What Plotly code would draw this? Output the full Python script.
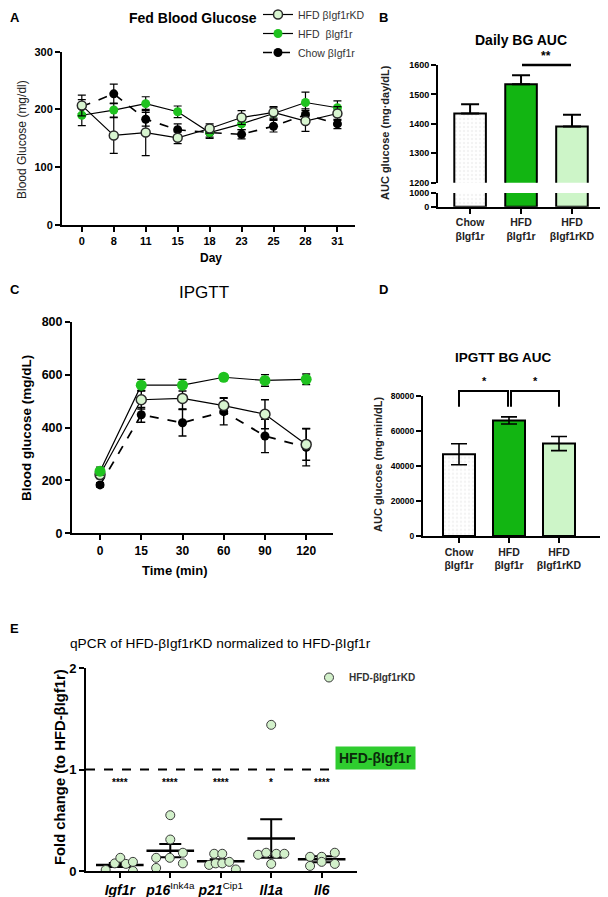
import plotly.graph_objects as go

W, H = 608, 897
OFF = 8  # page body margin of the html page

# ---------------- data ----------------
days = ["0", "8", "11", "15", "18", "23", "25", "28", "31"]
fed_kd = [207, 155, 160, 151, 167, 186, 195, 180, 193]
fed_kd_err = [18, 31, 40, 10, 8, 12, 10, 18, 12]
fed_hfd = [190, 199, 210, 196, 160, 175, 193, 212, 203]
fed_hfd_err = [18, 12, 12, 10, 10, 10, 10, 18, 12]
fed_chow = [205, 227, 183, 165, 160, 157, 171, 191, 175]
fed_chow_err = [12, 17, 12, 10, 8, 8, 10, 10, 8]

groups = ["Chow<br>βIgf1r", "HFD<br>βIgf1r", "HFD<br>βIgf1rKD"]
daily_auc = [1435, 1535, 1391]
daily_auc_err = [32, 30, 40]

times = ["0", "15", "30", "60", "90", "120"]
gtt_hfd = [235, 560, 560, 590, 578, 582]
gtt_hfd_err = [15, 22, 22, 10, 22, 20]
gtt_kd = [222, 505, 510, 483, 450, 336]
gtt_kd_err = [15, 35, 40, 30, 55, 60]
gtt_chow = [183, 448, 418, 460, 368, 325]
gtt_chow_err = [8, 28, 50, 50, 63, 70]

ipgtt_auc = [46600, 65900, 52700]
ipgtt_auc_err = [6000, 2000, 4000]

genes = ["<b><i>Igf1r</i></b>", "<b><i>p16</i></b><sup>Ink4a</sup>",
         "<b><i>p21</i></b><sup>Cip1</sup>", "<b><i>Il1a</i></b>", "<b><i>Il6</i></b>"]
pts_igf1r = [0.01, 0.075, 0.13, 0.07, 0.09, 0.0]
pts_p16 = [0.13, 0.03, 0.55, 0.31, 0.13, 0.18, 0.075]
pts_p21 = [0.06, 0.17, 0.17, 0.075, 0.075, 0.09, 0.015]
pts_il1a = [1.44, 0.16, 0.18, 0.17, 0.17, 0.07]
pts_il6 = [0.14, 0.05, 0.14, 0.18, 0.07, 0.09]
jit_igf1r = [-0.28, -0.1, 0.01, 0.12, 0.26, 0.26]
jit_p16 = [-0.28, -0.28, 0.0, 0.0, -0.01, 0.25, 0.25]
jit_p21 = [-0.23, -0.13, 0.03, -0.1, 0.03, 0.17, 0.3]
jit_il1a = [0.0, -0.26, -0.1, 0.1, 0.26, 0.0]
jit_il6 = [-0.23, -0.23, 0.0, 0.26, 0.26, 0.0]
gene_mean = [0.06, 0.2, 0.095, 0.32, 0.115]
gene_sem = [0.02, 0.065, 0.02, 0.19, 0.03]
gene_stars = ["****", "****", "****", "*", "****"]

# ---------------- style ----------------
FONT = "Arial, Liberation Sans, sans-serif"
GREEN = "#1fc21f"
BAR_GREEN = "#12b512"
LIGHT = "#d8f5d0"
ECOL = "#2b2b2b"

FW, FH = W - OFF, H - OFF


def fx(p):
    return (p - OFF) / FW


def fy(p):
    return 1 - (p - OFF) / FH


fig = go.Figure()

# ---------------- Panel A ----------------
specA = [
    ("Chow βIgf1r", fed_chow, fed_chow_err, dict(color="black", size=9), "dash", 3),
    ("HFD  βIgf1r", fed_hfd, fed_hfd_err, dict(color=GREEN, size=9), "solid", 2),
    ("HFD βIgf1rKD", fed_kd, fed_kd_err,
     dict(color=LIGHT, size=9, line=dict(color=ECOL, width=1.5)), "solid", 1),
]
for name, vals, errs, mk, dash, rank in specA:
    fig.add_trace(go.Scatter(
        x=days, y=vals, mode="lines+markers", name=name, legend="legend", legendrank=rank,
        line=dict(color="black", width=1.6 if dash == "dash" else 1.2, dash=dash),
        marker=mk,
        error_y=dict(type="data", array=errs, color="black", thickness=1.2, width=4),
        xaxis="x", yaxis="y"))

# ---------------- Panel B (broken axis) ----------------
bar_colors = ["#f3f3f3", BAR_GREEN, "#cdf5c8"]
pattern = dict(shape=[".", "", ""], fgcolor="#a0a0a0", size=4, solidity=0.3)
for yax, err in (("y2", dict(type="data", array=daily_auc_err, arrayminus=[0, 0, 0],
                               symmetric=False, color="black", thickness=2, width=9)),
                 ("y3", None)):
    fig.add_trace(go.Bar(
        x=groups, y=daily_auc, width=0.62, showlegend=False,
        marker=dict(color=bar_colors, line=dict(color="black", width=2), pattern=pattern),
        error_y=err, xaxis="x2", yaxis=yax))

# ---------------- Panel C ----------------
specC = [
    ("Chow", gtt_chow, gtt_chow_err, dict(color="black", size=9), "dash"),
    ("KD", gtt_kd, gtt_kd_err, dict(color=LIGHT, size=10, line=dict(color=ECOL, width=1.5)), "solid"),
    ("HFD", gtt_hfd, gtt_hfd_err, dict(color=GREEN, size=11), "solid"),
]
for name, vals, errs, mk, dash in specC:
    fig.add_trace(go.Scatter(
        x=times, y=vals, mode="lines+markers", showlegend=False,
        line=dict(color="black", width=1.8 if dash == "dash" else 1.2, dash=dash),
        marker=mk,
        error_y=dict(type="data", array=errs, color="black", thickness=1.4, width=4),
        xaxis="x4", yaxis="y4"))

# ---------------- Panel D ----------------
fig.add_trace(go.Bar(
    x=groups, y=ipgtt_auc, width=0.64, showlegend=False,
    marker=dict(color=bar_colors, line=dict(color="black", width=2), pattern=pattern),
    error_y=dict(type="data", array=ipgtt_auc_err, color="black", thickness=1.6, width=8),
    xaxis="x5", yaxis="y5"))

# ---------------- Panel E ----------------
all_pts = [pts_igf1r, pts_p16, pts_p21, pts_il1a, pts_il6]
all_jit = [jit_igf1r, jit_p16, jit_p21, jit_il1a, jit_il6]
px_, py_ = [], []
for i, (pts, jit) in enumerate(zip(all_pts, all_jit)):
    for v, j in zip(pts, jit):
        px_.append(i + j)
        py_.append(v)
fig.add_trace(go.Scatter(
    x=list(range(len(genes))), y=gene_mean, mode="markers", showlegend=False,
    marker=dict(symbol="line-ew", size=34, line=dict(color="black", width=2.5)),
    error_y=dict(type="data", array=gene_sem, color="black", thickness=2, width=11),
    xaxis="x6", yaxis="y6"))
fig.add_trace(go.Scatter(
    x=px_, y=py_, mode="markers", name="HFD-βIgf1rKD", legend="legend2",
    marker=dict(color="#d2f0ca", size=9, line=dict(color="#3a3a3a", width=1)),
    xaxis="x6", yaxis="y6"))

# ---------------- axes ----------------
axline = dict(showline=True, linecolor="black", linewidth=2, ticks="outside",
              tickcolor="black", tickwidth=2, ticklen=5, showgrid=False, zeroline=False,
              automargin=False)

layout = dict(
    template="none",
    width=FW, height=FH, margin=dict(l=0, r=0, t=0, b=0, pad=0, autoexpand=False),
    plot_bgcolor="white", paper_bgcolor="white",
    font=dict(family=FONT, color="black"),
    bargap=0.3,
    # A
    xaxis=dict(domain=[fx(62), fx(355)], anchor="y", type="category", range=[-0.62, 8.55],
               tickfont=dict(size=11, weight="bold"), **axline),
    yaxis=dict(domain=[fy(225), fy(51.7)], anchor="x", range=[0, 300], tickvals=[0, 100, 200, 300],
               tickfont=dict(size=11, weight="bold"), **axline),
    # B
    xaxis2=dict(domain=[fx(438), fx(600)], anchor="y3", type="category", range=[-0.63, 2.55],
                tickfont=dict(size=10.5, weight="bold", color="#222"), **axline),
    yaxis2=dict(domain=[fy(182.7), fy(65)], anchor="x2", range=[1200, 1600],
                tickvals=[1200, 1300, 1400, 1500, 1600], tickfont=dict(size=9, weight="bold"), **axline),
    yaxis3=dict(domain=[fy(206.7), fy(193)], anchor="x2", range=[0, 1000],
                tickvals=[0, 1000], tickfont=dict(size=9, weight="bold"), **axline),
    # C
    xaxis4=dict(domain=[fx(72), fx(333)], anchor="y4", type="category", range=[-0.68, 5.65],
                tickfont=dict(size=12, weight="bold"), **axline),
    yaxis4=dict(domain=[fy(533.3), fy(321.7)], anchor="x4", range=[0, 800],
                tickvals=[0, 200, 400, 600, 800], tickfont=dict(size=12.5, weight="bold"), **axline),
    # D
    xaxis5=dict(domain=[fx(423), fx(600)], anchor="y5", type="category", range=[-0.72, 2.82],
                tickfont=dict(size=10.5, weight="bold", color="#222"), **axline),
    yaxis5=dict(domain=[fy(536), fy(395.7)], anchor="x5", range=[0, 80000], tickformat="d",
                tickvals=[0, 20000, 40000, 60000, 80000], tickfont=dict(size=8.5, weight="bold"), **axline),
    # E
    xaxis6=dict(domain=[fx(86), fx(357)], anchor="y6", range=[-0.67, 4.7],
                tickvals=list(range(len(genes))), ticktext=genes,
                tickfont=dict(size=14), **axline),
    yaxis6=dict(domain=[fy(871), fy(668)], anchor="x6", range=[0, 2],
                tickvals=[0, 1, 2], tickfont=dict(size=13, weight="bold"), **axline),
    legend=dict(x=fx(258), y=fy(0), xanchor="left", yanchor="top", bgcolor="rgba(0,0,0,0)",
                font=dict(size=10.5, color="#333"), itemwidth=30, tracegroupgap=0),
    legend2=dict(x=fx(309), y=fy(663), xanchor="left", yanchor="top", bgcolor="rgba(0,0,0,0)",
                 font=dict(size=10, weight="bold", color="#333"), itemwidth=30),
)
fig.update_layout(**layout)

# ---------------- annotations ----------------
ann = []


def text(x, y, s, size, bold=False, angle=0, xanchor="center", color="black", yanchor="middle"):
    ann.append(dict(x=fx(x), y=fy(y), xref="paper", yref="paper", text=s, showarrow=False,
                    textangle=angle, xanchor=xanchor, yanchor=yanchor,
                    font=dict(size=size, family=FONT, color=color,
                              weight="bold" if bold else "normal")))


# panel letters
text(8, 8, "A", 13, True, xanchor="left", yanchor="top")
text(377, 8, "B", 13, True, xanchor="left", yanchor="top")
text(8, 280, "C", 13, True, xanchor="left", yanchor="top")
text(377, 280, "D", 13, True, xanchor="left", yanchor="top")
text(8, 619, "E", 13, True, xanchor="left", yanchor="top")
# titles
text(193, 18, "Fed Blood Glucose", 14, True)
text(521, 40, "Daily BG AUC", 14, True)
text(204, 292, "IPGTT", 17)
text(503, 358, "IPGTT BG AUC", 13.5, True)
text(68, 643, "qPCR of HFD-βIgf1rKD normalized to HFD-βIgf1r", 13.7, xanchor="left")
# axis titles
text(22, 140, "Blood Glucose (mg/dl)", 12, angle=-90, color="#222")
text(211, 258, "Day", 12, True)
text(385, 133, "AUC glucose (mg·day/dL)", 11, True, angle=-90, color="#222")
text(26, 428, "Blood glucose (mg/dL)", 13.5, True, angle=-90)
text(175, 570, "Time (min)", 13, True)
text(378, 465, "AUC glucose (mg·min/dL)", 11, True, angle=-90, color="#222")
text(60, 767, "Fold change (to HFD-βIgf1r)", 14.8, True, angle=-90)
# significance
text(546, 56, "**", 12, True)
text(484, 381, "*", 11, True)
text(535, 381, "*", 11, True)
for i, s in enumerate(gene_stars):
    ann.append(dict(x=i, y=0.87, xref="x6", yref="y6", text=s, showarrow=False,
                    font=dict(size=10, family=FONT, weight="bold")))
# HFD-βIgf1r label box
ann.append(dict(x=fx(375), y=fy(769.5), xref="paper", yref="paper", text="HFD-βIgf1r",
                showarrow=False, bgcolor="#2fcc2f", borderpad=3,
                font=dict(size=14, family=FONT, color="#0a2a0a", weight="bold")))
fig.update_layout(annotations=ann)

# ---------------- shapes ----------------
shapes = [
    dict(type="line", xref="paper", yref="paper", x0=fx(522), x1=fx(571), y0=fy(65), y1=fy(65),
         line=dict(color="black", width=2.5)),
    dict(type="path", xref="paper", yref="paper",
         path=f"M {fx(459)} {fy(406.7)} L {fx(459)} {fy(391)} L {fx(508)} {fy(391)} L {fx(508)} {fy(406.7)}",
         line=dict(color="black", width=2)),
    dict(type="path", xref="paper", yref="paper",
         path=f"M {fx(511)} {fy(406.7)} L {fx(511)} {fy(391)} L {fx(559)} {fy(391)} L {fx(559)} {fy(406.7)}",
         line=dict(color="black", width=2)),
    dict(type="line", xref="x6", yref="y6", x0=-0.67, x1=4.3, y0=1, y1=1,
         line=dict(color="black", width=2, dash="dash")),
]
fig.update_layout(shapes=shapes)

fig.write_html("out.html")
